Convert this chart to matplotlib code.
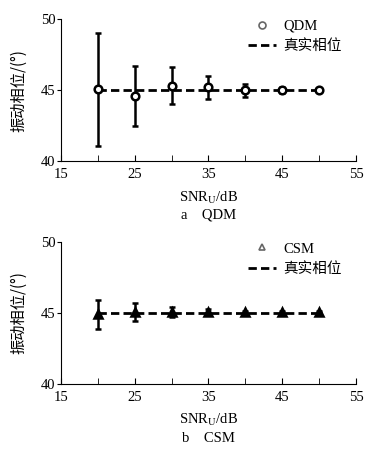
import numpy as np
import matplotlib.pyplot as plt
from matplotlib.lines import Line2D

plt.rcParams['font.family'] = ['Liberation Serif', 'Noto Sans CJK SC']
plt.rcParams['mathtext.fontset'] = 'stix'

snr = [20, 25, 30, 35, 40, 45, 50]
true_phase = [45, 45, 45, 45, 45, 45, 45]

qdm_mean = [45.05, 44.6, 45.3, 45.2, 45.0, 45.0, 45.0]
qdm_err = [4.0, 2.1, 1.3, 0.8, 0.45, 0.2, 0.12]

csm_mean = [44.9, 45.05, 45.05, 45.05, 45.05, 45.05, 45.05]
csm_err = [1.0, 0.63, 0.35, 0.2, 0.1, 0.08, 0.08]

fig = plt.figure(figsize=(3.67, 4.54), dpi=100)
ax_a = fig.add_axes([0.166, 0.645, 0.804, 0.313])
ax_b = fig.add_axes([0.166, 0.154, 0.804, 0.313])

panels = [
    (ax_a, qdm_mean, qdm_err, 'o', 'QDM', 'a    QDM'),
    (ax_b, csm_mean, csm_err, '^', 'CSM', 'b    CSM'),
]

for ax, mean, err, mk, name, caption in panels:
    ax.plot(snr, true_phase, '--', color='black', lw=2, dashes=(3, 1.5), zorder=3)
    ax.errorbar(snr, mean, yerr=err, fmt=mk, color='black', mfc='white' if mk == 'o' else 'black',
                mec='black', mew=1.8, ms=5.5, ecolor='black', elinewidth=1.8, capsize=2.5,
                capthick=1.8, zorder=4)

    ax.set_xlim(15, 55)
    ax.set_ylim(40, 50)
    ax.set_xticks([15, 25, 35, 45, 55])
    ax.set_xticks([20, 30, 40, 50], minor=True)
    ax.set_yticks([40, 45, 50])
    ax.tick_params(axis='x', direction='in', length=4, labelsize=10.5, pad=5)
    ax.tick_params(axis='x', which='minor', direction='in', length=4)
    ax.tick_params(axis='y', direction='out', length=3, labelsize=10.5, pad=1)
    ax.spines['top'].set_visible(False)
    ax.spines['right'].set_visible(False)
    ax.set_xlabel('SNR$_\\mathrm{U}$/dB', fontsize=10.5, labelpad=6)
    ax.set_ylabel('振动相位/(°)', fontsize=11, family=['Noto Sans CJK SC', 'DejaVu Sans'], labelpad=10)
    ax.text(0.5, -0.335, caption, transform=ax.transAxes, ha='center', va='top', fontsize=10.5)

    handles = [
        Line2D([], [], marker=mk, ls='none', mfc='white', mec='0.4', mew=1.2, ms=5),
        Line2D([], [], ls='--', color='black', lw=2, dashes=(3, 1.5)),
    ]
    ax.legend(handles, [name, '真实相位'], loc='upper right', bbox_to_anchor=(0.995, 1.09),
              frameon=False, handlelength=1.9, handletextpad=0.5,
              labelspacing=0.45, prop={'family': ['Liberation Serif', 'Noto Sans CJK SC'], 'size': 10.5})

fig.savefig('out.png', dpi=100)
